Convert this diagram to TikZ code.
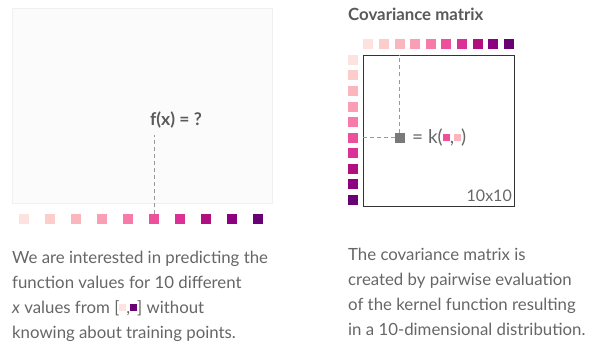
\documentclass[tikz,border=0pt]{standalone}
\usepackage{fontspec}
\setmainfont{Lato}
\usetikzlibrary{positioning}

% palette of the ten x values
\definecolor{rp1}{HTML}{FDE2DF}
\definecolor{rp2}{HTML}{FCCDCA}
\definecolor{rp3}{HTML}{FBB5BC}
\definecolor{rp4}{HTML}{F99EB4}
\definecolor{rp5}{HTML}{F77BA8}
\definecolor{rp6}{HTML}{EE4F9B}
\definecolor{rp7}{HTML}{D93196}
\definecolor{rp8}{HTML}{B10F80}
\definecolor{rp9}{HTML}{8C0180}
\definecolor{rp10}{HTML}{690175}
\definecolor{txtgray}{HTML}{666666}
\definecolor{headgray}{HTML}{595959}

\newcommand{\swatch}[1]{\textcolor{#1}{\rule[2.5pt]{7pt}{7pt}}}

\tikzset{
  xdot/.style={minimum size=10pt, inner sep=0pt, outer sep=0pt},
  guide/.style={gray!80, line width=0.8pt, dash pattern=on 4pt off 3pt},
  body/.style={anchor=north west, inner sep=0pt, align=left, text=txtgray,
    font=\fontsize{16.8}{25}\selectfont},
  head/.style={inner sep=0pt, text=headgray, font=\fontsize{16.8}{20}\selectfont\bfseries}
}

\begin{document}
\begin{tikzpicture}[x=1pt, y=-1pt]
    \useasboundingbox (0,0) rectangle (589,345);

    % linker Teil: Funktionsraum
    \node[draw=gray!12, fill=gray!3, line width=0.8pt, minimum width=260pt,
          minimum height=195pt, inner sep=0pt, anchor=north west] (plot) at (12,8) {};
    \foreach \i in {1,...,10}
        \node[xdot, fill=rp\i] (x\i) at ({24+(\i-1)*26}, 218.5) {};
    \node[head, anchor=base, font=\fontsize{17.5}{20}\selectfont\bfseries] (fx) at (176,125) {f(x) = ?};
    \coordinate (fxfoot) at (154,135);
    \draw[guide] (x6.north) -- (fxfoot);

    \node[body] (lefttext) at (12,250.5)
        {We are interested in predicting the\\
         function values for 10 different\\
         \textit{x} values from [\swatch{rp1},\swatch{rp10}] without\\
         knowing about training points.};

    % rechter Teil: Kovarianzmatrix
    \node[head, anchor=base west] (title) at (348,21) {Covariance matrix};
    \node[draw=black!80, line width=1pt, minimum size=151pt, inner sep=0pt,
          anchor=north west] (cov) at (363,55) {};
    \foreach \i in {1,...,10} {
        \node[xdot, fill=rp\i] (c\i) at ({368.3+(\i-1)*15.6}, 44) {};
        \node[xdot, fill=rp\i] (r\i) at (353, {60+(\i-1)*15.5}) {};
    }
    \node[xdot, fill=gray!95!black] (kij) at (c3 |- r6) {};
    \draw[guide] (kij.north) -- (kij.north |- cov.north);
    \draw[guide] (kij.west) -- (kij.west -| cov.west);
    \node[anchor=west, inner sep=0pt, text=txtgray, font=\fontsize{19}{20}\selectfont]
        (kval) at (412,138) {= k(\swatch{rp6},\swatch{rp3})};
    \node[anchor=base east, inner sep=0pt, text=txtgray, font=\fontsize{16}{18}\selectfont]
        (dim) at (512,201) {10x10};

    \node[body] (righttext) at (348,247.5)
        {The covariance matrix is\\
         created by pairwise evaluation\\
         of the kernel function resulting\\
         in a 10-dimensional distribution.};
\end{tikzpicture}
\end{document}
